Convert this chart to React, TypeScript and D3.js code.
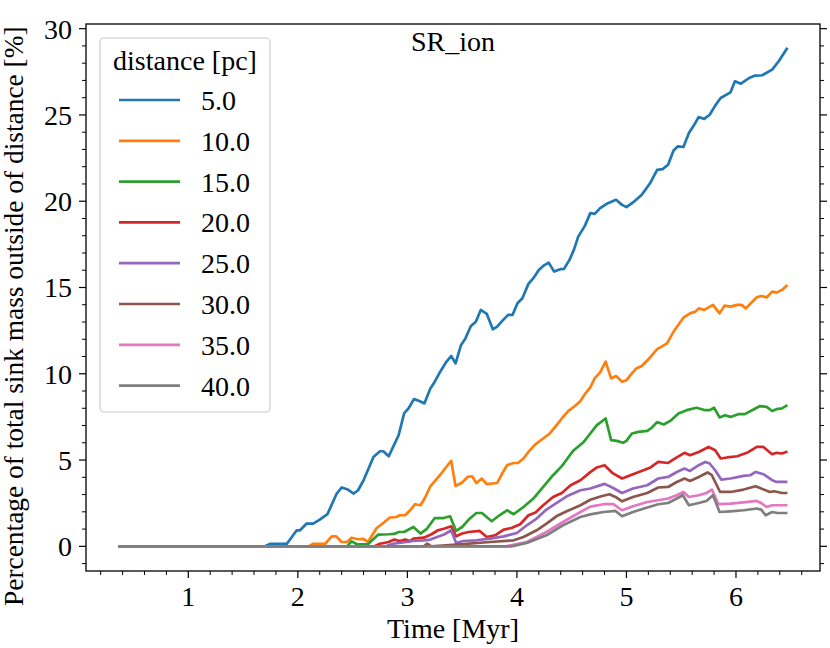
import * as d3 from 'd3';

// Time [Myr] vs percentage of sink mass outside a given distance
const distances = ['5.0', '10.0', '15.0', '20.0', '25.0', '30.0', '35.0', '40.0'];
const colors = ['#1f77b4', '#ff7f0e', '#2ca02c', '#d62728', '#9467bd', '#8c564b', '#e377c2', '#7f7f7f'];

const d5: [number, number][] = [
  [0.36, 0], [1.70, 0], [1.75, 0.15], [1.90, 0.15], [1.99, 0.93], [2.02, 0.93], [2.08, 1.32], [2.14, 1.32],
  [2.20, 1.55], [2.27, 1.86], [2.355, 3.06], [2.40, 3.41], [2.45, 3.31], [2.51, 3.06], [2.55, 3.25], [2.60, 3.83],
  [2.69, 5.18], [2.75, 5.51], [2.78, 5.51], [2.83, 5.22], [2.87, 5.76], [2.92, 6.44], [2.97, 7.70], [3.01, 7.99],
  [3.06, 8.53], [3.11, 8.42], [3.155, 8.28], [3.21, 9.15], [3.25, 9.54], [3.30, 10.12], [3.35, 10.64], [3.40, 11.03],
  [3.44, 10.60], [3.49, 11.67], [3.53, 12.05], [3.58, 12.77], [3.625, 13.02], [3.67, 13.70], [3.725, 13.47],
  [3.78, 12.58], [3.82, 12.73], [3.86, 13.02], [3.92, 13.41], [3.96, 13.41], [4.005, 14.09], [4.05, 14.38],
  [4.105, 15.21], [4.15, 15.54], [4.20, 16.02], [4.24, 16.25], [4.29, 16.44], [4.34, 15.92], [4.395, 16.06],
  [4.43, 16.08], [4.48, 16.6], [4.52, 17.18], [4.56, 17.95], [4.62, 18.57], [4.67, 19.31], [4.71, 19.27],
  [4.76, 19.6], [4.82, 19.85], [4.905, 20.08], [4.96, 19.79], [5.00, 19.66], [5.06, 19.93], [5.14, 20.37],
  [5.22, 21.09], [5.28, 21.82], [5.33, 21.86], [5.38, 22.11], [5.43, 22.94], [5.47, 23.18], [5.52, 23.14],
  [5.57, 23.95], [5.61, 24.34], [5.66, 24.88], [5.71, 24.77], [5.76, 25.01], [5.81, 25.54], [5.86, 25.98],
  [5.95, 26.31], [5.99, 26.95], [6.045, 26.81], [6.12, 27.14], [6.175, 27.28], [6.24, 27.30], [6.33, 27.63],
  [6.39, 28.11], [6.47, 28.89],
];

const d10: [number, number][] = [
  [0.36, 0], [2.10, 0], [2.14, 0.15], [2.25, 0.15], [2.31, 0.58], [2.35, 0.58], [2.40, 0.25], [2.45, 0.25],
  [2.49, 0.50], [2.55, 0.41], [2.60, 0.43], [2.64, 0.25], [2.72, 1.06], [2.78, 1.35], [2.84, 1.67], [2.90, 1.70],
  [2.93, 1.80], [2.98, 1.80], [3.025, 2.09], [3.07, 2.44], [3.12, 2.38], [3.16, 2.80], [3.21, 3.48], [3.27, 3.93],
  [3.31, 4.22], [3.36, 4.64], [3.40, 4.95], [3.44, 3.50], [3.50, 3.70], [3.55, 4.02], [3.59, 4.06], [3.63, 3.67],
  [3.68, 3.93], [3.725, 3.60], [3.82, 3.67], [3.86, 4.16], [3.91, 4.70], [3.97, 4.83], [4.01, 4.83], [4.06, 5.09],
  [4.105, 5.47], [4.17, 5.92], [4.24, 6.25], [4.30, 6.54], [4.35, 6.92], [4.41, 7.41], [4.47, 7.85], [4.53, 8.13],
  [4.58, 8.42], [4.62, 8.82], [4.67, 9.21], [4.71, 9.73], [4.76, 10.08], [4.81, 10.70], [4.86, 9.73], [4.905, 9.87],
  [4.96, 9.54], [5.00, 9.63], [5.05, 10.02], [5.09, 10.31], [5.14, 10.45], [5.20, 10.84], [5.28, 11.43],
  [5.32, 11.57], [5.37, 11.76], [5.44, 12.54], [5.52, 13.25], [5.58, 13.50], [5.63, 13.60], [5.66, 13.79],
  [5.71, 13.70], [5.79, 13.99], [5.85, 13.50], [5.895, 13.95], [5.95, 13.89], [6.01, 13.99], [6.05, 13.99],
  [6.09, 13.79], [6.15, 14.18], [6.19, 14.43], [6.23, 14.51], [6.28, 14.43], [6.33, 14.76], [6.37, 14.70],
  [6.42, 14.86], [6.47, 15.15],
];

const d15: [number, number][] = [
  [0.36, 0], [2.45, 0], [2.49, 0.29], [2.54, 0.12], [2.64, 0.12], [2.735, 0.68], [2.83, 0.70], [2.88, 0.72],
  [2.92, 0.83], [2.97, 0.83], [3.055, 1.12], [3.12, 0.74], [3.18, 1.03], [3.25, 1.64], [3.33, 1.64], [3.39, 1.74],
  [3.445, 0.89], [3.50, 1.12], [3.56, 1.55], [3.63, 1.93], [3.68, 1.93], [3.77, 1.45], [3.84, 1.80], [3.91, 2.09],
  [3.97, 1.86], [4.06, 2.28], [4.15, 2.77], [4.24, 3.44], [4.33, 4.12], [4.41, 4.65], [4.49, 5.34], [4.52, 5.57],
  [4.61, 6.05], [4.67, 6.54], [4.73, 7.02], [4.81, 7.41], [4.86, 6.15], [4.91, 6.11], [4.97, 6.00], [5.00, 6.11],
  [5.05, 6.54], [5.11, 6.63], [5.19, 6.69], [5.23, 6.87], [5.28, 7.20], [5.34, 7.06], [5.40, 7.27], [5.475, 7.70],
  [5.55, 7.89], [5.64, 8.03], [5.72, 7.89], [5.76, 7.89], [5.80, 8.03], [5.85, 7.47], [5.90, 7.60], [5.95, 7.50],
  [6.02, 7.66], [6.08, 7.66], [6.16, 7.93], [6.22, 8.13], [6.28, 8.08], [6.33, 7.84], [6.37, 7.95], [6.42, 7.99],
  [6.47, 8.18],
];

const d20: [number, number][] = [
  [0.36, 0], [2.70, 0], [2.75, 0.15], [2.83, 0.25], [2.88, 0.39], [2.93, 0.31], [2.98, 0.39], [3.025, 0.31],
  [3.055, 0.45], [3.15, 0.50], [3.22, 0.70], [3.28, 0.93], [3.34, 1.03], [3.40, 1.16], [3.445, 0.58], [3.50, 0.74],
  [3.56, 0.83], [3.66, 0.89], [3.725, 0.54], [3.80, 0.64], [3.88, 0.97], [3.95, 1.06], [4.03, 1.28], [4.105, 1.80],
  [4.17, 1.96], [4.24, 2.38], [4.33, 2.86], [4.41, 3.09], [4.49, 3.54], [4.58, 3.83], [4.67, 4.30], [4.73, 4.57],
  [4.80, 4.70], [4.87, 4.26], [4.96, 3.93], [5.06, 4.18], [5.155, 4.41], [5.22, 4.57], [5.29, 4.89], [5.38, 4.83],
  [5.46, 5.15], [5.53, 5.42], [5.58, 5.28], [5.66, 5.47], [5.75, 5.76], [5.81, 5.57], [5.86, 5.09], [5.92, 5.15],
  [6.01, 5.22], [6.10, 5.42], [6.19, 5.76], [6.25, 5.76], [6.33, 5.34], [6.37, 5.42], [6.42, 5.38], [6.47, 5.50],
];

const d25: [number, number][] = [
  [0.36, 0], [2.80, 0], [2.87, 0.15], [2.99, 0.25], [3.055, 0.31], [3.15, 0.35], [3.21, 0.39], [3.29, 0.58],
  [3.34, 0.70], [3.40, 0.93], [3.445, 0.19], [3.51, 0.31], [3.63, 0.35], [3.755, 0.45], [3.88, 0.58], [4.00, 0.77],
  [4.09, 1.22], [4.18, 1.61], [4.27, 2.13], [4.36, 2.51], [4.455, 2.90], [4.58, 3.25], [4.67, 3.35], [4.80, 3.62],
  [4.87, 3.41], [4.96, 3.09], [5.06, 3.35], [5.19, 3.54], [5.29, 3.93], [5.38, 4.02], [5.46, 4.31], [5.53, 4.51],
  [5.58, 4.37], [5.66, 4.70], [5.72, 4.89], [5.76, 4.80], [5.81, 4.41], [5.865, 3.87], [5.95, 3.93], [6.07, 4.08],
  [6.13, 4.12], [6.18, 4.31], [6.25, 4.18], [6.33, 3.83], [6.37, 3.73], [6.47, 3.73],
];

const d30: [number, number][] = [
  [0.36, 0], [3.15, 0], [3.18, 0.15], [3.22, 0], [3.45, 0.1], [3.755, 0.25], [3.97, 0.35], [4.06, 0.54],
  [4.18, 0.93], [4.27, 1.32], [4.36, 1.74], [4.455, 2.03], [4.58, 2.38], [4.67, 2.70], [4.77, 2.90], [4.845, 3.02],
  [4.90, 2.86], [4.96, 2.61], [5.06, 2.86], [5.19, 3.09], [5.29, 3.41], [5.38, 3.44], [5.46, 3.73], [5.53, 3.93],
  [5.58, 3.79], [5.66, 4.02], [5.74, 4.28], [5.78, 4.12], [5.855, 3.15], [5.95, 3.15], [6.07, 3.29], [6.18, 3.48],
  [6.23, 3.35], [6.31, 3.15], [6.35, 3.19], [6.42, 3.09], [6.47, 3.09],
];

const d35: [number, number][] = [
  [0.36, 0], [3.90, 0], [4.09, 0.25], [4.27, 0.83], [4.42, 1.41], [4.58, 1.99], [4.67, 2.30], [4.79, 2.44],
  [4.88, 2.44], [4.96, 2.09], [5.06, 2.32], [5.19, 2.57], [5.29, 2.67], [5.38, 2.77], [5.46, 2.96], [5.52, 3.15],
  [5.57, 2.86], [5.66, 2.96], [5.73, 3.09], [5.78, 3.29], [5.84, 2.44], [5.95, 2.48], [6.07, 2.55], [6.19, 2.63],
  [6.23, 2.51], [6.28, 2.28], [6.33, 2.38], [6.40, 2.38], [6.47, 2.38],
];

const d40: [number, number][] = [
  [0.36, 0], [3.95, 0], [4.09, 0.2], [4.27, 0.64], [4.42, 1.22], [4.58, 1.70], [4.67, 1.85], [4.79, 1.99],
  [4.90, 2.05], [4.96, 1.74], [5.06, 1.99], [5.19, 2.25], [5.29, 2.44], [5.38, 2.51], [5.46, 2.77], [5.515, 2.96],
  [5.57, 2.38], [5.66, 2.51], [5.73, 2.63], [5.79, 2.96], [5.85, 1.99], [5.95, 2.03], [6.07, 2.09], [6.19, 2.19],
  [6.23, 2.13], [6.27, 1.80], [6.33, 1.99], [6.38, 1.93], [6.47, 1.93],
];

const series = [d5, d10, d15, d20, d25, d30, d35, d40];

const xMajor = [1, 2, 3, 4, 5, 6];
const yMajor = [0, 5, 10, 15, 20, 25, 30];

const WIDTH = 830;
const HEIGHT = 648;
const FONT = '"Liberation Serif", "Times New Roman", serif';
const FS = 28;

export default function App() {
  const left = 86;
  const right = 820;
  const top = 24;
  const bottom = 571;

  const x = d3.scaleLinear().domain([0.066, 6.767]).range([left, right]);
  const y = d3.scaleLinear().domain([-1.43, 30.27]).range([bottom, top]);

  const xMinor = d3
    .range(1, 34)
    .map((i) => i * 0.2)
    .filter((t) => t > 0.066 && t < 6.767 && Math.abs(t - Math.round(t)) > 1e-6);
  const yMinor = d3.range(-1, 31).filter((v) => v % 5 !== 0);

  const line = d3
    .line<[number, number]>()
    .x((d) => x(d[0]))
    .y((d) => y(d[1]));

  const legendX = 100;
  const legendY = 38;
  const rowGap = 40.8;

  return (
    <svg
      width={WIDTH}
      height={HEIGHT}
      style={{ position: 'absolute', left: 0, top: 0, background: '#fff' }}
      fontFamily={FONT}
    >
      <defs>
        <clipPath id="plot-area">
          <rect x={left} y={top} width={right - left} height={bottom - top} />
        </clipPath>
      </defs>

      <g clipPath="url(#plot-area)">
        {series.map((s, i) => (
          <path key={distances[i]} d={line(s) ?? ''} fill="none" stroke={colors[i]} strokeWidth={2.7} strokeLinejoin="round" />
        ))}
      </g>

      {/* frame */}
      <rect x={left} y={top} width={right - left} height={bottom - top} fill="none" stroke="#000" strokeWidth={1.3} />

      {/* x ticks */}
      {xMajor.map((t) => (
        <g key={`xt${t}`}>
          <line x1={x(t)} x2={x(t)} y1={bottom} y2={bottom + 7} stroke="#000" strokeWidth={1.2} />
          <text x={x(t)} y={bottom + 35} textAnchor="middle" fontSize={FS}>
            {t}
          </text>
        </g>
      ))}
      {xMinor.map((t) => (
        <line key={`xm${t}`} x1={x(t)} x2={x(t)} y1={bottom} y2={bottom + 4} stroke="#000" strokeWidth={1} />
      ))}

      {/* y ticks, left and right */}
      {yMajor.map((v) => (
        <g key={`yt${v}`}>
          <line x1={left - 7} x2={left} y1={y(v)} y2={y(v)} stroke="#000" strokeWidth={1.2} />
          <line x1={right} x2={right + 7} y1={y(v)} y2={y(v)} stroke="#000" strokeWidth={1.2} />
          <text x={left - 14} y={y(v) + 10} textAnchor="end" fontSize={FS}>
            {v}
          </text>
        </g>
      ))}
      {yMinor.map((v) => (
        <g key={`ym${v}`}>
          <line x1={left - 4} x2={left} y1={y(v)} y2={y(v)} stroke="#000" strokeWidth={1} />
          <line x1={right} x2={right + 4} y1={y(v)} y2={y(v)} stroke="#000" strokeWidth={1} />
        </g>
      ))}

      {/* title */}
      <text x={(left + right) / 2} y={51} textAnchor="middle" fontSize={FS}>
        SR_ion
      </text>

      {/* axis labels */}
      <text x={(left + right) / 2} y={638} textAnchor="middle" fontSize={FS}>
        Time [Myr]
      </text>
      <text transform="translate(23,606) rotate(-90)" textAnchor="start" fontSize={27.4}>
        Percentage of total sink mass outside of distance [%]
      </text>

      {/* legend */}
      <rect
        x={legendX}
        y={legendY}
        width={170}
        height={374}
        rx={4}
        fill="#fff"
        fillOpacity={0.8}
        stroke="#cccccc"
        strokeWidth={1.2}
      />
      <text x={legendX + 85} y={70} textAnchor="middle" fontSize={FS}>
        distance [pc]
      </text>
      {distances.map((d, i) => {
        const ly = 100 + i * rowGap;
        return (
          <g key={`lg${d}`}>
            <line x1={119} x2={180} y1={ly} y2={ly} stroke={colors[i]} strokeWidth={2.7} />
            <text x={201} y={ly + 10} fontSize={FS}>
              {d}
            </text>
          </g>
        );
      })}
    </svg>
  );
}
